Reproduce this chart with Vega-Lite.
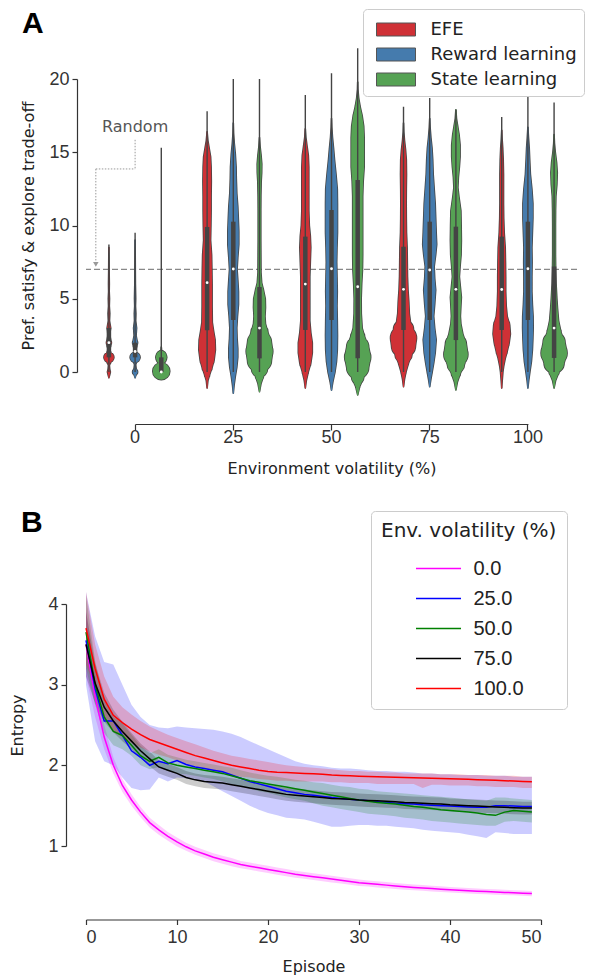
{
"$schema": "https://vega.github.io/schema/vega-lite/v6.json",
"background": "white",
"padding": {"left": 9, "top": 8, "right": 0, "bottom": 0},
"spacing": 31,
"resolve": {"scale": {"color": "independent", "fill": "independent", "size": "independent"}, "legend": {"color": "independent", "fill": "independent"}},
"config": {"view": {"stroke": null}, "font": "DejaVu Sans", "axis": {"grid": false}},
"datasets": {
"stats": [
{"vol":"0","grp":"EFE","lo":0,"hi":8.7,"q1":1,"q3":3,"med":2},
{"vol":"0","grp":"Reward learning","lo":0,"hi":9.5,"q1":1,"q3":2,"med":1.4},
{"vol":"0","grp":"State learning","lo":0,"hi":15.3,"q1":0,"q3":1,"med":0},
{"vol":"25","grp":"EFE","lo":0,"hi":17.8,"q1":2.85,"q3":9.9,"med":6.1},
{"vol":"25","grp":"Reward learning","lo":0,"hi":20,"q1":3.55,"q3":10.26,"med":7.03},
{"vol":"25","grp":"State learning","lo":0,"hi":20,"q1":0.93,"q3":5.8,"med":3.0},
{"vol":"50","grp":"EFE","lo":0,"hi":18.9,"q1":2.87,"q3":9.24,"med":6.0},
{"vol":"50","grp":"Reward learning","lo":0,"hi":20.4,"q1":3.55,"q3":11.06,"med":7.05},
{"vol":"50","grp":"State learning","lo":0,"hi":22.1,"q1":0.94,"q3":13.1,"med":5.82},
{"vol":"75","grp":"EFE","lo":0,"hi":18.1,"q1":2.87,"q3":8.55,"med":5.64},
{"vol":"75","grp":"Reward learning","lo":0,"hi":18.7,"q1":3.55,"q3":10.26,"med":6.96},
{"vol":"75","grp":"State learning","lo":0,"hi":17.9,"q1":2.18,"q3":9.92,"med":5.64},
{"vol":"100","grp":"EFE","lo":0,"hi":17.4,"q1":2.87,"q3":9.24,"med":5.63},
{"vol":"100","grp":"Reward learning","lo":0,"hi":19.4,"q1":3.55,"q3":10.26,"med":7.05},
{"vol":"100","grp":"State learning","lo":0,"hi":18.4,"q1":0.96,"q3":7.2,"med":3.0}
],
"viol": [
{"vol":"0","grp":"EFE","v":-0.4,"d":0},{"vol":"0","grp":"EFE","v":-0.2,"d":0.8},{"vol":"0","grp":"EFE","v":0,"d":1.5},{"vol":"0","grp":"EFE","v":0.2,"d":0.8},{"vol":"0","grp":"EFE","v":0.45,"d":0.5},{"vol":"0","grp":"EFE","v":0.7,"d":2},{"vol":"0","grp":"EFE","v":1.0,"d":5},{"vol":"0","grp":"EFE","v":1.3,"d":2},{"vol":"0","grp":"EFE","v":1.55,"d":0.8},{"vol":"0","grp":"EFE","v":1.8,"d":1.8},{"vol":"0","grp":"EFE","v":2.0,"d":2.5},{"vol":"0","grp":"EFE","v":2.2,"d":1.8},{"vol":"0","grp":"EFE","v":2.5,"d":1},{"vol":"0","grp":"EFE","v":2.8,"d":1.3},{"vol":"0","grp":"EFE","v":3.0,"d":1.8},{"vol":"0","grp":"EFE","v":3.2,"d":1.3},{"vol":"0","grp":"EFE","v":3.5,"d":0.6},{"vol":"0","grp":"EFE","v":4,"d":0.9},{"vol":"0","grp":"EFE","v":4.5,"d":0.4},{"vol":"0","grp":"EFE","v":5,"d":0.6},{"vol":"0","grp":"EFE","v":5.5,"d":0.3},{"vol":"0","grp":"EFE","v":6,"d":0.4},{"vol":"0","grp":"EFE","v":7,"d":0.2},{"vol":"0","grp":"EFE","v":8,"d":0.1},{"vol":"0","grp":"EFE","v":8.5,"d":0},
{"vol":"0","grp":"Reward learning","v":-0.4,"d":0},{"vol":"0","grp":"Reward learning","v":-0.2,"d":1},{"vol":"0","grp":"Reward learning","v":0,"d":2.5},{"vol":"0","grp":"Reward learning","v":0.25,"d":1},{"vol":"0","grp":"Reward learning","v":0.5,"d":0.6},{"vol":"0","grp":"Reward learning","v":0.75,"d":2},{"vol":"0","grp":"Reward learning","v":1.0,"d":5},{"vol":"0","grp":"Reward learning","v":1.25,"d":2},{"vol":"0","grp":"Reward learning","v":1.5,"d":0.8},{"vol":"0","grp":"Reward learning","v":1.8,"d":1.8},{"vol":"0","grp":"Reward learning","v":2.0,"d":2.5},{"vol":"0","grp":"Reward learning","v":2.2,"d":1.8},{"vol":"0","grp":"Reward learning","v":2.5,"d":1},{"vol":"0","grp":"Reward learning","v":3,"d":1.5},{"vol":"0","grp":"Reward learning","v":3.5,"d":0.6},{"vol":"0","grp":"Reward learning","v":4,"d":0.8},{"vol":"0","grp":"Reward learning","v":4.5,"d":0.4},{"vol":"0","grp":"Reward learning","v":5,"d":0.6},{"vol":"0","grp":"Reward learning","v":6,"d":0.3},{"vol":"0","grp":"Reward learning","v":7,"d":0.2},{"vol":"0","grp":"Reward learning","v":8,"d":0.1},{"vol":"0","grp":"Reward learning","v":9,"d":0},
{"vol":"0","grp":"State learning","v":-0.32,"d":0},{"vol":"0","grp":"State learning","v":-0.2,"d":3},{"vol":"0","grp":"State learning","v":-0.05,"d":7},{"vol":"0","grp":"State learning","v":0.05,"d":8.5},{"vol":"0","grp":"State learning","v":0.15,"d":7},{"vol":"0","grp":"State learning","v":0.3,"d":3},{"vol":"0","grp":"State learning","v":0.45,"d":1.2},{"vol":"0","grp":"State learning","v":0.7,"d":3},{"vol":"0","grp":"State learning","v":0.9,"d":5},{"vol":"0","grp":"State learning","v":1.0,"d":5.5},{"vol":"0","grp":"State learning","v":1.1,"d":5},{"vol":"0","grp":"State learning","v":1.3,"d":2.5},{"vol":"0","grp":"State learning","v":1.5,"d":0.3},{"vol":"0","grp":"State learning","v":1.7,"d":0},
{"vol":"25","grp":"EFE","v":-1.1,"d":0},{"vol":"25","grp":"EFE","v":-0.6,"d":0.8},{"vol":"25","grp":"EFE","v":-0.2,"d":2.5},{"vol":"25","grp":"EFE","v":0.3,"d":5},{"vol":"25","grp":"EFE","v":0.8,"d":7},{"vol":"25","grp":"EFE","v":1.5,"d":8.3},{"vol":"25","grp":"EFE","v":2.2,"d":8},{"vol":"25","grp":"EFE","v":2.8,"d":6.5},{"vol":"25","grp":"EFE","v":3.4,"d":5.2},{"vol":"25","grp":"EFE","v":4.5,"d":5},{"vol":"25","grp":"EFE","v":6,"d":5},{"vol":"25","grp":"EFE","v":7,"d":4.8},{"vol":"25","grp":"EFE","v":8,"d":4.5},{"vol":"25","grp":"EFE","v":9,"d":3.5},{"vol":"25","grp":"EFE","v":10,"d":3.8},{"vol":"25","grp":"EFE","v":11,"d":4},{"vol":"25","grp":"EFE","v":12,"d":4},{"vol":"25","grp":"EFE","v":13,"d":4.2},{"vol":"25","grp":"EFE","v":14,"d":4},{"vol":"25","grp":"EFE","v":14.7,"d":3.5},{"vol":"25","grp":"EFE","v":15.3,"d":2},{"vol":"25","grp":"EFE","v":15.8,"d":0.8},{"vol":"25","grp":"EFE","v":16.4,"d":0},
{"vol":"25","grp":"Reward learning","v":-1.45,"d":0},{"vol":"25","grp":"Reward learning","v":-0.9,"d":0.8},{"vol":"25","grp":"Reward learning","v":-0.3,"d":2},{"vol":"25","grp":"Reward learning","v":0.3,"d":3.5},{"vol":"25","grp":"Reward learning","v":1,"d":4.5},{"vol":"25","grp":"Reward learning","v":1.6,"d":4.5},{"vol":"25","grp":"Reward learning","v":2.3,"d":3.8},{"vol":"25","grp":"Reward learning","v":3,"d":3.5},{"vol":"25","grp":"Reward learning","v":3.8,"d":4.2},{"vol":"25","grp":"Reward learning","v":4.6,"d":5.2},{"vol":"25","grp":"Reward learning","v":5.5,"d":5.2},{"vol":"25","grp":"Reward learning","v":6.3,"d":4.5},{"vol":"25","grp":"Reward learning","v":7,"d":3.8},{"vol":"25","grp":"Reward learning","v":7.8,"d":4.5},{"vol":"25","grp":"Reward learning","v":8.7,"d":5.5},{"vol":"25","grp":"Reward learning","v":9.6,"d":5.5},{"vol":"25","grp":"Reward learning","v":10.5,"d":5},{"vol":"25","grp":"Reward learning","v":11.3,"d":4.5},{"vol":"25","grp":"Reward learning","v":12.2,"d":3.5},{"vol":"25","grp":"Reward learning","v":13.2,"d":3},{"vol":"25","grp":"Reward learning","v":14,"d":2.8},{"vol":"25","grp":"Reward learning","v":14.9,"d":2},{"vol":"25","grp":"Reward learning","v":15.6,"d":1},{"vol":"25","grp":"Reward learning","v":16.3,"d":0.3},{"vol":"25","grp":"Reward learning","v":17,"d":0},
{"vol":"25","grp":"State learning","v":-1.35,"d":0},{"vol":"25","grp":"State learning","v":-0.8,"d":1.5},{"vol":"25","grp":"State learning","v":-0.3,"d":4},{"vol":"25","grp":"State learning","v":0.2,"d":8},{"vol":"25","grp":"State learning","v":0.8,"d":12},{"vol":"25","grp":"State learning","v":1.4,"d":13.3},{"vol":"25","grp":"State learning","v":2,"d":12},{"vol":"25","grp":"State learning","v":2.7,"d":8.5},{"vol":"25","grp":"State learning","v":3.3,"d":6},{"vol":"25","grp":"State learning","v":3.8,"d":5.5},{"vol":"25","grp":"State learning","v":4.4,"d":6},{"vol":"25","grp":"State learning","v":5,"d":5.8},{"vol":"25","grp":"State learning","v":5.6,"d":4},{"vol":"25","grp":"State learning","v":6.1,"d":2.2},{"vol":"25","grp":"State learning","v":6.8,"d":1.5},{"vol":"25","grp":"State learning","v":8,"d":1.4},{"vol":"25","grp":"State learning","v":9,"d":1.3},{"vol":"25","grp":"State learning","v":10,"d":1.3},{"vol":"25","grp":"State learning","v":11,"d":1.3},{"vol":"25","grp":"State learning","v":12,"d":1.4},{"vol":"25","grp":"State learning","v":13,"d":1.7},{"vol":"25","grp":"State learning","v":13.6,"d":2.2},{"vol":"25","grp":"State learning","v":14.2,"d":2.3},{"vol":"25","grp":"State learning","v":14.8,"d":1.6},{"vol":"25","grp":"State learning","v":15.4,"d":0.6},{"vol":"25","grp":"State learning","v":16,"d":0},
{"vol":"50","grp":"EFE","v":-1.1,"d":0},{"vol":"50","grp":"EFE","v":-0.6,"d":1},{"vol":"50","grp":"EFE","v":0,"d":3},{"vol":"50","grp":"EFE","v":0.6,"d":5.5},{"vol":"50","grp":"EFE","v":1.3,"d":7},{"vol":"50","grp":"EFE","v":2,"d":7},{"vol":"50","grp":"EFE","v":2.7,"d":5.5},{"vol":"50","grp":"EFE","v":3.5,"d":4.5},{"vol":"50","grp":"EFE","v":4.5,"d":4.5},{"vol":"50","grp":"EFE","v":5.5,"d":4.5},{"vol":"50","grp":"EFE","v":6.5,"d":4.5},{"vol":"50","grp":"EFE","v":7.5,"d":5},{"vol":"50","grp":"EFE","v":8.5,"d":5.5},{"vol":"50","grp":"EFE","v":9.3,"d":5},{"vol":"50","grp":"EFE","v":10,"d":4},{"vol":"50","grp":"EFE","v":11,"d":3.5},{"vol":"50","grp":"EFE","v":12,"d":3.5},{"vol":"50","grp":"EFE","v":13,"d":3.5},{"vol":"50","grp":"EFE","v":14,"d":3.5},{"vol":"50","grp":"EFE","v":14.8,"d":3},{"vol":"50","grp":"EFE","v":15.4,"d":1.8},{"vol":"50","grp":"EFE","v":16,"d":0.6},{"vol":"50","grp":"EFE","v":16.6,"d":0},
{"vol":"50","grp":"Reward learning","v":-1.25,"d":0},{"vol":"50","grp":"Reward learning","v":-0.7,"d":1.3},{"vol":"50","grp":"Reward learning","v":0,"d":3.5},{"vol":"50","grp":"Reward learning","v":0.7,"d":5},{"vol":"50","grp":"Reward learning","v":1.5,"d":5.8},{"vol":"50","grp":"Reward learning","v":2.5,"d":6},{"vol":"50","grp":"Reward learning","v":3.5,"d":5.8},{"vol":"50","grp":"Reward learning","v":4.5,"d":5.5},{"vol":"50","grp":"Reward learning","v":5.5,"d":5.8},{"vol":"50","grp":"Reward learning","v":6.5,"d":5.5},{"vol":"50","grp":"Reward learning","v":7.5,"d":5.2},{"vol":"50","grp":"Reward learning","v":8.5,"d":5.5},{"vol":"50","grp":"Reward learning","v":9.5,"d":6},{"vol":"50","grp":"Reward learning","v":10.5,"d":6},{"vol":"50","grp":"Reward learning","v":11.5,"d":6},{"vol":"50","grp":"Reward learning","v":12.5,"d":5.8},{"vol":"50","grp":"Reward learning","v":13.5,"d":4.5},{"vol":"50","grp":"Reward learning","v":14.5,"d":3},{"vol":"50","grp":"Reward learning","v":15.3,"d":2},{"vol":"50","grp":"Reward learning","v":16,"d":1},{"vol":"50","grp":"Reward learning","v":16.7,"d":0.3},{"vol":"50","grp":"Reward learning","v":17.3,"d":0},
{"vol":"50","grp":"State learning","v":-1.57,"d":0},{"vol":"50","grp":"State learning","v":-1.0,"d":2},{"vol":"50","grp":"State learning","v":-0.4,"d":6},{"vol":"50","grp":"State learning","v":0.3,"d":11},{"vol":"50","grp":"State learning","v":1.0,"d":13},{"vol":"50","grp":"State learning","v":1.7,"d":11},{"vol":"50","grp":"State learning","v":2.4,"d":7},{"vol":"50","grp":"State learning","v":3,"d":4.5},{"vol":"50","grp":"State learning","v":4,"d":3.6},{"vol":"50","grp":"State learning","v":5,"d":3.5},{"vol":"50","grp":"State learning","v":6,"d":4},{"vol":"50","grp":"State learning","v":7,"d":4.8},{"vol":"50","grp":"State learning","v":8,"d":5},{"vol":"50","grp":"State learning","v":9,"d":5},{"vol":"50","grp":"State learning","v":10,"d":5},{"vol":"50","grp":"State learning","v":11,"d":5},{"vol":"50","grp":"State learning","v":12,"d":5},{"vol":"50","grp":"State learning","v":13,"d":5.5},{"vol":"50","grp":"State learning","v":14,"d":6.5},{"vol":"50","grp":"State learning","v":15,"d":6.5},{"vol":"50","grp":"State learning","v":16,"d":6.5},{"vol":"50","grp":"State learning","v":16.8,"d":6},{"vol":"50","grp":"State learning","v":17.5,"d":4.5},{"vol":"50","grp":"State learning","v":18.1,"d":2.5},{"vol":"50","grp":"State learning","v":18.7,"d":1},{"vol":"50","grp":"State learning","v":19.3,"d":0.2},{"vol":"50","grp":"State learning","v":19.8,"d":0},
{"vol":"75","grp":"EFE","v":-1.0,"d":0},{"vol":"75","grp":"EFE","v":-0.5,"d":1},{"vol":"75","grp":"EFE","v":0,"d":2.5},{"vol":"75","grp":"EFE","v":0.6,"d":5},{"vol":"75","grp":"EFE","v":1.2,"d":8.5},{"vol":"75","grp":"EFE","v":1.8,"d":12},{"vol":"75","grp":"EFE","v":2.3,"d":13},{"vol":"75","grp":"EFE","v":2.9,"d":10},{"vol":"75","grp":"EFE","v":3.4,"d":7},{"vol":"75","grp":"EFE","v":4,"d":5.8},{"vol":"75","grp":"EFE","v":4.8,"d":5.3},{"vol":"75","grp":"EFE","v":5.6,"d":4.5},{"vol":"75","grp":"EFE","v":6.5,"d":4},{"vol":"75","grp":"EFE","v":7.5,"d":3.8},{"vol":"75","grp":"EFE","v":8.5,"d":3.6},{"vol":"75","grp":"EFE","v":9.5,"d":3},{"vol":"75","grp":"EFE","v":10.5,"d":2.8},{"vol":"75","grp":"EFE","v":11.5,"d":2.7},{"vol":"75","grp":"EFE","v":12.5,"d":2.8},{"vol":"75","grp":"EFE","v":13.5,"d":3},{"vol":"75","grp":"EFE","v":14.5,"d":2.8},{"vol":"75","grp":"EFE","v":15.2,"d":2},{"vol":"75","grp":"EFE","v":15.8,"d":1},{"vol":"75","grp":"EFE","v":16.4,"d":0.3},{"vol":"75","grp":"EFE","v":17,"d":0},
{"vol":"75","grp":"Reward learning","v":-1.0,"d":0},{"vol":"75","grp":"Reward learning","v":-0.5,"d":1.2},{"vol":"75","grp":"Reward learning","v":0,"d":2.5},{"vol":"75","grp":"Reward learning","v":0.6,"d":4},{"vol":"75","grp":"Reward learning","v":1.3,"d":5.5},{"vol":"75","grp":"Reward learning","v":2.2,"d":6.5},{"vol":"75","grp":"Reward learning","v":3,"d":5},{"vol":"75","grp":"Reward learning","v":3.8,"d":4},{"vol":"75","grp":"Reward learning","v":4.6,"d":5},{"vol":"75","grp":"Reward learning","v":5.6,"d":6},{"vol":"75","grp":"Reward learning","v":6.4,"d":5},{"vol":"75","grp":"Reward learning","v":7.2,"d":4.5},{"vol":"75","grp":"Reward learning","v":8,"d":6},{"vol":"75","grp":"Reward learning","v":8.7,"d":7},{"vol":"75","grp":"Reward learning","v":9.5,"d":6.5},{"vol":"75","grp":"Reward learning","v":10.5,"d":6},{"vol":"75","grp":"Reward learning","v":11.5,"d":5.5},{"vol":"75","grp":"Reward learning","v":12.5,"d":4.5},{"vol":"75","grp":"Reward learning","v":13.5,"d":3.5},{"vol":"75","grp":"Reward learning","v":14.5,"d":3},{"vol":"75","grp":"Reward learning","v":15.3,"d":2.3},{"vol":"75","grp":"Reward learning","v":16,"d":1.2},{"vol":"75","grp":"Reward learning","v":16.7,"d":0.4},{"vol":"75","grp":"Reward learning","v":17.3,"d":0},
{"vol":"75","grp":"State learning","v":-1.23,"d":0},{"vol":"75","grp":"State learning","v":-0.7,"d":1.5},{"vol":"75","grp":"State learning","v":-0.1,"d":4.5},{"vol":"75","grp":"State learning","v":0.5,"d":8.5},{"vol":"75","grp":"State learning","v":1.2,"d":12},{"vol":"75","grp":"State learning","v":1.9,"d":10.5},{"vol":"75","grp":"State learning","v":2.6,"d":7},{"vol":"75","grp":"State learning","v":3.3,"d":5},{"vol":"75","grp":"State learning","v":3.8,"d":4.5},{"vol":"75","grp":"State learning","v":4.5,"d":5},{"vol":"75","grp":"State learning","v":5.1,"d":5.5},{"vol":"75","grp":"State learning","v":5.8,"d":4.5},{"vol":"75","grp":"State learning","v":6.5,"d":3.5},{"vol":"75","grp":"State learning","v":7.2,"d":4.2},{"vol":"75","grp":"State learning","v":8,"d":5.2},{"vol":"75","grp":"State learning","v":9,"d":5.5},{"vol":"75","grp":"State learning","v":10,"d":5.3},{"vol":"75","grp":"State learning","v":11,"d":5},{"vol":"75","grp":"State learning","v":12,"d":3},{"vol":"75","grp":"State learning","v":12.6,"d":2},{"vol":"75","grp":"State learning","v":13.3,"d":2.5},{"vol":"75","grp":"State learning","v":14,"d":3.5},{"vol":"75","grp":"State learning","v":14.7,"d":4.2},{"vol":"75","grp":"State learning","v":15.5,"d":4.2},{"vol":"75","grp":"State learning","v":16.2,"d":3.2},{"vol":"75","grp":"State learning","v":16.8,"d":1.8},{"vol":"75","grp":"State learning","v":17.3,"d":0.6},{"vol":"75","grp":"State learning","v":17.9,"d":0},
{"vol":"100","grp":"EFE","v":-1.1,"d":0},{"vol":"100","grp":"EFE","v":-0.6,"d":0.5},{"vol":"100","grp":"EFE","v":0,"d":1.2},{"vol":"100","grp":"EFE","v":0.4,"d":2},{"vol":"100","grp":"EFE","v":0.9,"d":3.5},{"vol":"100","grp":"EFE","v":1.4,"d":5.5},{"vol":"100","grp":"EFE","v":2,"d":7.5},{"vol":"100","grp":"EFE","v":2.6,"d":8.7},{"vol":"100","grp":"EFE","v":3.2,"d":8},{"vol":"100","grp":"EFE","v":3.8,"d":5.5},{"vol":"100","grp":"EFE","v":4.5,"d":4.5},{"vol":"100","grp":"EFE","v":5.5,"d":4},{"vol":"100","grp":"EFE","v":6.5,"d":4},{"vol":"100","grp":"EFE","v":7.5,"d":3.8},{"vol":"100","grp":"EFE","v":8.5,"d":3.5},{"vol":"100","grp":"EFE","v":9.5,"d":2.5},{"vol":"100","grp":"EFE","v":10.5,"d":2},{"vol":"100","grp":"EFE","v":11.5,"d":1.8},{"vol":"100","grp":"EFE","v":12.5,"d":1.8},{"vol":"100","grp":"EFE","v":13.5,"d":1.8},{"vol":"100","grp":"EFE","v":14.5,"d":1.5},{"vol":"100","grp":"EFE","v":15.3,"d":1},{"vol":"100","grp":"EFE","v":15.9,"d":0.4},{"vol":"100","grp":"EFE","v":16.5,"d":0},
{"vol":"100","grp":"Reward learning","v":-1.1,"d":0},{"vol":"100","grp":"Reward learning","v":-0.6,"d":0.8},{"vol":"100","grp":"Reward learning","v":0,"d":2},{"vol":"100","grp":"Reward learning","v":0.7,"d":3.5},{"vol":"100","grp":"Reward learning","v":1.5,"d":4.5},{"vol":"100","grp":"Reward learning","v":2.3,"d":5},{"vol":"100","grp":"Reward learning","v":3,"d":5.3},{"vol":"100","grp":"Reward learning","v":3.8,"d":5.2},{"vol":"100","grp":"Reward learning","v":4.6,"d":4.5},{"vol":"100","grp":"Reward learning","v":5.5,"d":4},{"vol":"100","grp":"Reward learning","v":6.5,"d":4},{"vol":"100","grp":"Reward learning","v":7.5,"d":4.2},{"vol":"100","grp":"Reward learning","v":8.5,"d":4},{"vol":"100","grp":"Reward learning","v":9.5,"d":4.5},{"vol":"100","grp":"Reward learning","v":10.5,"d":5},{"vol":"100","grp":"Reward learning","v":11.5,"d":5},{"vol":"100","grp":"Reward learning","v":12.5,"d":4},{"vol":"100","grp":"Reward learning","v":13.5,"d":2.5},{"vol":"100","grp":"Reward learning","v":14.5,"d":1.8},{"vol":"100","grp":"Reward learning","v":15.3,"d":1.3},{"vol":"100","grp":"Reward learning","v":16,"d":0.6},{"vol":"100","grp":"Reward learning","v":16.7,"d":0},
{"vol":"100","grp":"State learning","v":-1.1,"d":0},{"vol":"100","grp":"State learning","v":-0.6,"d":1.5},{"vol":"100","grp":"State learning","v":0,"d":5},{"vol":"100","grp":"State learning","v":0.6,"d":10},{"vol":"100","grp":"State learning","v":1.3,"d":13},{"vol":"100","grp":"State learning","v":2,"d":11},{"vol":"100","grp":"State learning","v":2.7,"d":7},{"vol":"100","grp":"State learning","v":3.5,"d":4.5},{"vol":"100","grp":"State learning","v":4.3,"d":3.5},{"vol":"100","grp":"State learning","v":5,"d":2.8},{"vol":"100","grp":"State learning","v":6,"d":2},{"vol":"100","grp":"State learning","v":7,"d":1.6},{"vol":"100","grp":"State learning","v":8,"d":1.4},{"vol":"100","grp":"State learning","v":9,"d":1.4},{"vol":"100","grp":"State learning","v":10,"d":1.4},{"vol":"100","grp":"State learning","v":11,"d":1.5},{"vol":"100","grp":"State learning","v":12,"d":1.8},{"vol":"100","grp":"State learning","v":12.8,"d":2.8},{"vol":"100","grp":"State learning","v":13.6,"d":3.2},{"vol":"100","grp":"State learning","v":14.3,"d":2.5},{"vol":"100","grp":"State learning","v":15,"d":1.2},{"vol":"100","grp":"State learning","v":15.6,"d":0.4},{"vol":"100","grp":"State learning","v":16.2,"d":0}
],
"ent": [
{"ep":0,"s":"0.0","m":3.5,"lo":3.1,"hi":3.95},{"ep":1,"s":"0.0","m":2.85,"lo":2.6,"hi":3.1},{"ep":2,"s":"0.0","m":2.35,"lo":2.2,"hi":2.5},{"ep":3,"s":"0.0","m":2.0,"lo":1.9,"hi":2.1},{"ep":4,"s":"0.0","m":1.75,"lo":1.67,"hi":1.83},{"ep":5,"s":"0.0","m":1.57,"lo":1.5,"hi":1.64},{"ep":6,"s":"0.0","m":1.42,"lo":1.355,"hi":1.485},{"ep":7,"s":"0.0","m":1.29,"lo":1.23,"hi":1.35},{"ep":8,"s":"0.0","m":1.2,"lo":1.14,"hi":1.26},{"ep":9,"s":"0.0","m":1.12,"lo":1.065,"hi":1.175},{"ep":10,"s":"0.0","m":1.05,"lo":0.995,"hi":1.105},{"ep":11,"s":"0.0","m":0.99,"lo":0.94,"hi":1.04},{"ep":12,"s":"0.0","m":0.94,"lo":0.89,"hi":0.99},{"ep":13,"s":"0.0","m":0.9,"lo":0.85,"hi":0.95},{"ep":14,"s":"0.0","m":0.86,"lo":0.81,"hi":0.91},{"ep":15,"s":"0.0","m":0.83,"lo":0.78,"hi":0.88},{"ep":16,"s":"0.0","m":0.8,"lo":0.75,"hi":0.85},{"ep":17,"s":"0.0","m":0.77,"lo":0.725,"hi":0.815},{"ep":18,"s":"0.0","m":0.75,"lo":0.705,"hi":0.795},{"ep":19,"s":"0.0","m":0.73,"lo":0.685,"hi":0.775},{"ep":20,"s":"0.0","m":0.71,"lo":0.665,"hi":0.755},{"ep":21,"s":"0.0","m":0.69,"lo":0.645,"hi":0.735},{"ep":22,"s":"0.0","m":0.67,"lo":0.625,"hi":0.715},{"ep":23,"s":"0.0","m":0.65,"lo":0.607,"hi":0.693},{"ep":24,"s":"0.0","m":0.635,"lo":0.593,"hi":0.677},{"ep":25,"s":"0.0","m":0.62,"lo":0.578,"hi":0.662},{"ep":26,"s":"0.0","m":0.605,"lo":0.563,"hi":0.647},{"ep":27,"s":"0.0","m":0.59,"lo":0.548,"hi":0.632},{"ep":28,"s":"0.0","m":0.575,"lo":0.535,"hi":0.615},{"ep":29,"s":"0.0","m":0.56,"lo":0.52,"hi":0.6},{"ep":30,"s":"0.0","m":0.545,"lo":0.505,"hi":0.585},{"ep":31,"s":"0.0","m":0.535,"lo":0.497,"hi":0.573},{"ep":32,"s":"0.0","m":0.525,"lo":0.487,"hi":0.563},{"ep":33,"s":"0.0","m":0.515,"lo":0.477,"hi":0.553},{"ep":34,"s":"0.0","m":0.505,"lo":0.468,"hi":0.542},{"ep":35,"s":"0.0","m":0.495,"lo":0.458,"hi":0.532},{"ep":36,"s":"0.0","m":0.487,"lo":0.45,"hi":0.524},{"ep":37,"s":"0.0","m":0.48,"lo":0.444,"hi":0.516},{"ep":38,"s":"0.0","m":0.472,"lo":0.436,"hi":0.508},{"ep":39,"s":"0.0","m":0.465,"lo":0.43,"hi":0.5},{"ep":40,"s":"0.0","m":0.458,"lo":0.423,"hi":0.493},{"ep":41,"s":"0.0","m":0.452,"lo":0.418,"hi":0.486},{"ep":42,"s":"0.0","m":0.446,"lo":0.412,"hi":0.48},{"ep":43,"s":"0.0","m":0.44,"lo":0.406,"hi":0.474},{"ep":44,"s":"0.0","m":0.435,"lo":0.402,"hi":0.468},{"ep":45,"s":"0.0","m":0.43,"lo":0.397,"hi":0.463},{"ep":46,"s":"0.0","m":0.425,"lo":0.392,"hi":0.458},{"ep":47,"s":"0.0","m":0.42,"lo":0.388,"hi":0.452},{"ep":48,"s":"0.0","m":0.415,"lo":0.383,"hi":0.447},{"ep":49,"s":"0.0","m":0.41,"lo":0.378,"hi":0.442},
{"ep":0,"s":"25.0","m":3.55,"lo":3.0,"hi":4.15},{"ep":1,"s":"25.0","m":2.95,"lo":2.3,"hi":3.6},{"ep":2,"s":"25.0","m":2.55,"lo":2.05,"hi":3.28},{"ep":3,"s":"25.0","m":2.55,"lo":2.0,"hi":3.25},{"ep":4,"s":"25.0","m":2.37,"lo":1.85,"hi":3.0},{"ep":5,"s":"25.0","m":2.18,"lo":1.72,"hi":2.75},{"ep":6,"s":"25.0","m":2.1,"lo":1.69,"hi":2.6},{"ep":7,"s":"25.0","m":2.0,"lo":1.7,"hi":2.5},{"ep":8,"s":"25.0","m":2.05,"lo":1.85,"hi":2.47},{"ep":9,"s":"25.0","m":2.02,"lo":1.8,"hi":2.46},{"ep":10,"s":"25.0","m":2.06,"lo":1.85,"hi":2.48},{"ep":11,"s":"25.0","m":2.01,"lo":1.84,"hi":2.47},{"ep":12,"s":"25.0","m":1.98,"lo":1.82,"hi":2.46},{"ep":13,"s":"25.0","m":1.96,"lo":1.8,"hi":2.45},{"ep":14,"s":"25.0","m":1.94,"lo":1.74,"hi":2.44},{"ep":15,"s":"25.0","m":1.92,"lo":1.68,"hi":2.42},{"ep":16,"s":"25.0","m":1.88,"lo":1.62,"hi":2.39},{"ep":17,"s":"25.0","m":1.84,"lo":1.56,"hi":2.35},{"ep":18,"s":"25.0","m":1.8,"lo":1.5,"hi":2.3},{"ep":19,"s":"25.0","m":1.77,"lo":1.45,"hi":2.25},{"ep":20,"s":"25.0","m":1.74,"lo":1.41,"hi":2.2},{"ep":21,"s":"25.0","m":1.71,"lo":1.38,"hi":2.15},{"ep":22,"s":"25.0","m":1.68,"lo":1.35,"hi":2.1},{"ep":23,"s":"25.0","m":1.66,"lo":1.34,"hi":2.05},{"ep":24,"s":"25.0","m":1.64,"lo":1.33,"hi":2.02},{"ep":25,"s":"25.0","m":1.63,"lo":1.3,"hi":2.0},{"ep":26,"s":"25.0","m":1.615,"lo":1.27,"hi":1.99},{"ep":27,"s":"25.0","m":1.6,"lo":1.24,"hi":1.97},{"ep":28,"s":"25.0","m":1.59,"lo":1.24,"hi":1.96},{"ep":29,"s":"25.0","m":1.58,"lo":1.25,"hi":1.96},{"ep":30,"s":"25.0","m":1.57,"lo":1.26,"hi":1.95},{"ep":31,"s":"25.0","m":1.56,"lo":1.26,"hi":1.94},{"ep":32,"s":"25.0","m":1.55,"lo":1.25,"hi":1.93},{"ep":33,"s":"25.0","m":1.54,"lo":1.25,"hi":1.93},{"ep":34,"s":"25.0","m":1.53,"lo":1.24,"hi":1.92},{"ep":35,"s":"25.0","m":1.525,"lo":1.23,"hi":1.92},{"ep":36,"s":"25.0","m":1.52,"lo":1.22,"hi":1.91},{"ep":37,"s":"25.0","m":1.51,"lo":1.2,"hi":1.9},{"ep":38,"s":"25.0","m":1.505,"lo":1.19,"hi":1.9},{"ep":39,"s":"25.0","m":1.5,"lo":1.18,"hi":1.89},{"ep":40,"s":"25.0","m":1.495,"lo":1.17,"hi":1.89},{"ep":41,"s":"25.0","m":1.49,"lo":1.16,"hi":1.88},{"ep":42,"s":"25.0","m":1.485,"lo":1.14,"hi":1.88},{"ep":43,"s":"25.0","m":1.48,"lo":1.12,"hi":1.88},{"ep":44,"s":"25.0","m":1.48,"lo":1.1,"hi":1.87},{"ep":45,"s":"25.0","m":1.5,"lo":1.17,"hi":1.87},{"ep":46,"s":"25.0","m":1.5,"lo":1.16,"hi":1.87},{"ep":47,"s":"25.0","m":1.495,"lo":1.15,"hi":1.86},{"ep":48,"s":"25.0","m":1.49,"lo":1.15,"hi":1.86},{"ep":49,"s":"25.0","m":1.49,"lo":1.15,"hi":1.86},
{"ep":0,"s":"50.0","m":3.65,"lo":3.2,"hi":4.1},{"ep":1,"s":"50.0","m":3.0,"lo":2.75,"hi":3.3},{"ep":2,"s":"50.0","m":2.6,"lo":2.4,"hi":2.8},{"ep":3,"s":"50.0","m":2.42,"lo":2.25,"hi":2.6},{"ep":4,"s":"50.0","m":2.37,"lo":2.2,"hi":2.52},{"ep":5,"s":"50.0","m":2.25,"lo":2.12,"hi":2.38},{"ep":6,"s":"50.0","m":2.12,"lo":2.0,"hi":2.24},{"ep":7,"s":"50.0","m":2.05,"lo":1.95,"hi":2.15},{"ep":8,"s":"50.0","m":2.1,"lo":1.98,"hi":2.2},{"ep":9,"s":"50.0","m":2.03,"lo":1.93,"hi":2.13},{"ep":10,"s":"50.0","m":2.0,"lo":1.9,"hi":2.1},{"ep":11,"s":"50.0","m":1.98,"lo":1.89,"hi":2.07},{"ep":12,"s":"50.0","m":1.96,"lo":1.87,"hi":2.05},{"ep":13,"s":"50.0","m":1.94,"lo":1.85,"hi":2.03},{"ep":14,"s":"50.0","m":1.92,"lo":1.83,"hi":2.01},{"ep":15,"s":"50.0","m":1.9,"lo":1.8,"hi":1.99},{"ep":16,"s":"50.0","m":1.87,"lo":1.77,"hi":1.97},{"ep":17,"s":"50.0","m":1.84,"lo":1.74,"hi":1.94},{"ep":18,"s":"50.0","m":1.81,"lo":1.71,"hi":1.91},{"ep":19,"s":"50.0","m":1.79,"lo":1.68,"hi":1.89},{"ep":20,"s":"50.0","m":1.77,"lo":1.66,"hi":1.87},{"ep":21,"s":"50.0","m":1.75,"lo":1.63,"hi":1.86},{"ep":22,"s":"50.0","m":1.73,"lo":1.6,"hi":1.84},{"ep":23,"s":"50.0","m":1.71,"lo":1.58,"hi":1.82},{"ep":24,"s":"50.0","m":1.69,"lo":1.56,"hi":1.81},{"ep":25,"s":"50.0","m":1.67,"lo":1.53,"hi":1.79},{"ep":26,"s":"50.0","m":1.65,"lo":1.5,"hi":1.78},{"ep":27,"s":"50.0","m":1.63,"lo":1.48,"hi":1.76},{"ep":28,"s":"50.0","m":1.61,"lo":1.46,"hi":1.74},{"ep":29,"s":"50.0","m":1.59,"lo":1.44,"hi":1.73},{"ep":30,"s":"50.0","m":1.57,"lo":1.42,"hi":1.71},{"ep":31,"s":"50.0","m":1.555,"lo":1.4,"hi":1.7},{"ep":32,"s":"50.0","m":1.54,"lo":1.39,"hi":1.68},{"ep":33,"s":"50.0","m":1.53,"lo":1.38,"hi":1.67},{"ep":34,"s":"50.0","m":1.52,"lo":1.37,"hi":1.66},{"ep":35,"s":"50.0","m":1.505,"lo":1.35,"hi":1.65},{"ep":36,"s":"50.0","m":1.49,"lo":1.34,"hi":1.64},{"ep":37,"s":"50.0","m":1.48,"lo":1.33,"hi":1.63},{"ep":38,"s":"50.0","m":1.465,"lo":1.31,"hi":1.62},{"ep":39,"s":"50.0","m":1.45,"lo":1.3,"hi":1.61},{"ep":40,"s":"50.0","m":1.44,"lo":1.29,"hi":1.6},{"ep":41,"s":"50.0","m":1.43,"lo":1.28,"hi":1.59},{"ep":42,"s":"50.0","m":1.42,"lo":1.27,"hi":1.58},{"ep":43,"s":"50.0","m":1.41,"lo":1.26,"hi":1.57},{"ep":44,"s":"50.0","m":1.39,"lo":1.25,"hi":1.56},{"ep":45,"s":"50.0","m":1.38,"lo":1.25,"hi":1.6},{"ep":46,"s":"50.0","m":1.42,"lo":1.3,"hi":1.6},{"ep":47,"s":"50.0","m":1.44,"lo":1.31,"hi":1.59},{"ep":48,"s":"50.0","m":1.43,"lo":1.3,"hi":1.58},{"ep":49,"s":"50.0","m":1.42,"lo":1.29,"hi":1.57},
{"ep":0,"s":"75.0","m":3.5,"lo":3.1,"hi":3.9},{"ep":1,"s":"75.0","m":3.02,"lo":2.77,"hi":3.27},{"ep":2,"s":"75.0","m":2.72,"lo":2.54,"hi":2.9},{"ep":3,"s":"75.0","m":2.55,"lo":2.41,"hi":2.69},{"ep":4,"s":"75.0","m":2.42,"lo":2.3,"hi":2.54},{"ep":5,"s":"75.0","m":2.3,"lo":2.2,"hi":2.4},{"ep":6,"s":"75.0","m":2.18,"lo":2.09,"hi":2.27},{"ep":7,"s":"75.0","m":2.08,"lo":1.99,"hi":2.17},{"ep":8,"s":"75.0","m":1.98,"lo":1.9,"hi":2.06},{"ep":9,"s":"75.0","m":1.94,"lo":1.86,"hi":2.02},{"ep":10,"s":"75.0","m":1.9,"lo":1.82,"hi":1.98},{"ep":11,"s":"75.0","m":1.85,"lo":1.77,"hi":1.93},{"ep":12,"s":"75.0","m":1.82,"lo":1.74,"hi":1.9},{"ep":13,"s":"75.0","m":1.8,"lo":1.72,"hi":1.88},{"ep":14,"s":"75.0","m":1.79,"lo":1.71,"hi":1.87},{"ep":15,"s":"75.0","m":1.78,"lo":1.7,"hi":1.86},{"ep":16,"s":"75.0","m":1.76,"lo":1.68,"hi":1.84},{"ep":17,"s":"75.0","m":1.74,"lo":1.66,"hi":1.82},{"ep":18,"s":"75.0","m":1.72,"lo":1.64,"hi":1.8},{"ep":19,"s":"75.0","m":1.7,"lo":1.62,"hi":1.78},{"ep":20,"s":"75.0","m":1.68,"lo":1.6,"hi":1.76},{"ep":21,"s":"75.0","m":1.66,"lo":1.58,"hi":1.74},{"ep":22,"s":"75.0","m":1.64,"lo":1.56,"hi":1.72},{"ep":23,"s":"75.0","m":1.63,"lo":1.55,"hi":1.71},{"ep":24,"s":"75.0","m":1.62,"lo":1.54,"hi":1.7},{"ep":25,"s":"75.0","m":1.61,"lo":1.53,"hi":1.69},{"ep":26,"s":"75.0","m":1.6,"lo":1.52,"hi":1.68},{"ep":27,"s":"75.0","m":1.59,"lo":1.51,"hi":1.67},{"ep":28,"s":"75.0","m":1.585,"lo":1.505,"hi":1.665},{"ep":29,"s":"75.0","m":1.58,"lo":1.5,"hi":1.66},{"ep":30,"s":"75.0","m":1.57,"lo":1.49,"hi":1.65},{"ep":31,"s":"75.0","m":1.565,"lo":1.485,"hi":1.645},{"ep":32,"s":"75.0","m":1.56,"lo":1.48,"hi":1.64},{"ep":33,"s":"75.0","m":1.555,"lo":1.475,"hi":1.635},{"ep":34,"s":"75.0","m":1.55,"lo":1.47,"hi":1.63},{"ep":35,"s":"75.0","m":1.54,"lo":1.46,"hi":1.62},{"ep":36,"s":"75.0","m":1.535,"lo":1.455,"hi":1.615},{"ep":37,"s":"75.0","m":1.53,"lo":1.45,"hi":1.61},{"ep":38,"s":"75.0","m":1.525,"lo":1.445,"hi":1.605},{"ep":39,"s":"75.0","m":1.52,"lo":1.44,"hi":1.6},{"ep":40,"s":"75.0","m":1.51,"lo":1.43,"hi":1.59},{"ep":41,"s":"75.0","m":1.505,"lo":1.425,"hi":1.585},{"ep":42,"s":"75.0","m":1.5,"lo":1.42,"hi":1.58},{"ep":43,"s":"75.0","m":1.495,"lo":1.415,"hi":1.575},{"ep":44,"s":"75.0","m":1.49,"lo":1.41,"hi":1.57},{"ep":45,"s":"75.0","m":1.485,"lo":1.405,"hi":1.565},{"ep":46,"s":"75.0","m":1.48,"lo":1.4,"hi":1.56},{"ep":47,"s":"75.0","m":1.475,"lo":1.395,"hi":1.555},{"ep":48,"s":"75.0","m":1.47,"lo":1.39,"hi":1.55},{"ep":49,"s":"75.0","m":1.47,"lo":1.39,"hi":1.55},
{"ep":0,"s":"100.0","m":3.7,"lo":3.25,"hi":4.15},{"ep":1,"s":"100.0","m":3.2,"lo":2.95,"hi":3.5},{"ep":2,"s":"100.0","m":2.82,"lo":2.6,"hi":3.1},{"ep":3,"s":"100.0","m":2.62,"lo":2.42,"hi":2.85},{"ep":4,"s":"100.0","m":2.53,"lo":2.35,"hi":2.72},{"ep":5,"s":"100.0","m":2.45,"lo":2.28,"hi":2.63},{"ep":6,"s":"100.0","m":2.38,"lo":2.22,"hi":2.55},{"ep":7,"s":"100.0","m":2.32,"lo":2.17,"hi":2.48},{"ep":8,"s":"100.0","m":2.28,"lo":2.13,"hi":2.43},{"ep":9,"s":"100.0","m":2.24,"lo":2.1,"hi":2.38},{"ep":10,"s":"100.0","m":2.2,"lo":2.06,"hi":2.34},{"ep":11,"s":"100.0","m":2.16,"lo":2.02,"hi":2.3},{"ep":12,"s":"100.0","m":2.12,"lo":1.99,"hi":2.26},{"ep":13,"s":"100.0","m":2.09,"lo":1.96,"hi":2.22},{"ep":14,"s":"100.0","m":2.06,"lo":1.93,"hi":2.18},{"ep":15,"s":"100.0","m":2.03,"lo":1.9,"hi":2.15},{"ep":16,"s":"100.0","m":2.0,"lo":1.88,"hi":2.12},{"ep":17,"s":"100.0","m":1.98,"lo":1.86,"hi":2.1},{"ep":18,"s":"100.0","m":1.96,"lo":1.85,"hi":2.08},{"ep":19,"s":"100.0","m":1.94,"lo":1.83,"hi":2.06},{"ep":20,"s":"100.0","m":1.925,"lo":1.82,"hi":2.04},{"ep":21,"s":"100.0","m":1.915,"lo":1.81,"hi":2.02},{"ep":22,"s":"100.0","m":1.91,"lo":1.81,"hi":2.0},{"ep":23,"s":"100.0","m":1.905,"lo":1.8,"hi":1.99},{"ep":24,"s":"100.0","m":1.9,"lo":1.8,"hi":1.98},{"ep":25,"s":"100.0","m":1.895,"lo":1.8,"hi":1.97},{"ep":26,"s":"100.0","m":1.89,"lo":1.8,"hi":1.96},{"ep":27,"s":"100.0","m":1.88,"lo":1.79,"hi":1.95},{"ep":28,"s":"100.0","m":1.875,"lo":1.79,"hi":1.94},{"ep":29,"s":"100.0","m":1.87,"lo":1.78,"hi":1.93},{"ep":30,"s":"100.0","m":1.865,"lo":1.78,"hi":1.93},{"ep":31,"s":"100.0","m":1.862,"lo":1.78,"hi":1.92},{"ep":32,"s":"100.0","m":1.858,"lo":1.77,"hi":1.92},{"ep":33,"s":"100.0","m":1.855,"lo":1.77,"hi":1.91},{"ep":34,"s":"100.0","m":1.852,"lo":1.77,"hi":1.91},{"ep":35,"s":"100.0","m":1.85,"lo":1.77,"hi":1.9},{"ep":36,"s":"100.0","m":1.847,"lo":1.77,"hi":1.9},{"ep":37,"s":"100.0","m":1.844,"lo":1.72,"hi":1.9},{"ep":38,"s":"100.0","m":1.84,"lo":1.76,"hi":1.9},{"ep":39,"s":"100.0","m":1.837,"lo":1.76,"hi":1.89},{"ep":40,"s":"100.0","m":1.834,"lo":1.75,"hi":1.89},{"ep":41,"s":"100.0","m":1.83,"lo":1.75,"hi":1.89},{"ep":42,"s":"100.0","m":1.826,"lo":1.75,"hi":1.88},{"ep":43,"s":"100.0","m":1.822,"lo":1.74,"hi":1.88},{"ep":44,"s":"100.0","m":1.818,"lo":1.74,"hi":1.88},{"ep":45,"s":"100.0","m":1.814,"lo":1.73,"hi":1.87},{"ep":46,"s":"100.0","m":1.81,"lo":1.73,"hi":1.87},{"ep":47,"s":"100.0","m":1.805,"lo":1.73,"hi":1.87},{"ep":48,"s":"100.0","m":1.8,"lo":1.72,"hi":1.86},{"ep":49,"s":"100.0","m":1.795,"lo":1.72,"hi":1.86}
]
},
"vconcat": [
{
"title": {"text": "A", "anchor": "start", "frame": "group", "dx": -64, "offset": -30, "fontSize": 30, "fontWeight": "bold", "font": "Liberation Sans", "color": "black"},
"width": 491, "height": 293,
"resolve": {"scale": {"size": "independent"}},
"layer": [
{"data": {"values": [{}]},
 "mark": {"type": "rule", "color": "#888888", "strokeDash": [6, 3], "strokeWidth": 1.3},
 "encoding": {"y": {"datum": 7, "type": "quantitative", "scale": {"domain": [0, 20], "nice": false, "zero": false}}}},
{"data": {"values": [{}]},
 "mark": {"type": "text", "text": "Random", "font": "DejaVu Sans", "fontSize": 16, "color": "#555555"},
 "encoding": {"x": {"datum": "0", "type": "ordinal", "bandPosition": 0.5}, "y": {"datum": 16.75, "type": "quantitative"}}},
{"data": {"values": [{}]},
 "mark": {"type": "rule", "color": "#999999", "strokeDash": [1.5, 1.5], "strokeWidth": 1},
 "encoding": {"x": {"datum": "0", "type": "ordinal", "bandPosition": 0.5}, "y": {"datum": 15.85, "type": "quantitative"}, "y2": {"datum": 13.86}}},
{"data": {"values": [{}]},
 "mark": {"type": "rule", "color": "#999999", "strokeDash": [1.5, 1.5], "strokeWidth": 1},
 "encoding": {"x": {"datum": "0", "type": "ordinal", "bandPosition": 0}, "x2": {"datum": "0", "bandPosition": 0.5}, "y": {"datum": 13.86, "type": "quantitative"}}},
{"data": {"values": [{}]},
 "mark": {"type": "rule", "color": "#999999", "strokeDash": [1.5, 1.5], "strokeWidth": 1},
 "encoding": {"x": {"datum": "0", "type": "ordinal", "bandPosition": 0}, "y": {"datum": 13.86, "type": "quantitative"}, "y2": {"datum": 7.4}}},
{"data": {"values": [{}]},
 "mark": {"type": "point", "shape": "triangle-down", "filled": true, "color": "#999999", "size": 30, "opacity": 1},
 "encoding": {"x": {"datum": "0", "type": "ordinal", "bandPosition": 0}, "y": {"datum": 7.35, "type": "quantitative"}}},
{"data": {"name": "viol"},
 "mark": {"type": "trail", "color": "#444444", "opacity": 1},
 "encoding": {
  "x": {"field": "vol", "type": "ordinal", "scale": {"type": "band", "domain": ["0", "25", "50", "75", "100"], "paddingInner": 0.2, "paddingOuter": 0.1},
        "axis": {"title": "Environment volatility (%)", "domain": true, "domainDash": [0, 49.1, 392.8, 1000], "domainColor": "#333333", "domainWidth": 1.2, "offset": 52, "labelAngle": 0, "labelAlign": "center", "tickSize": 6, "tickColor": "#333333", "tickWidth": 1.2, "labelFont": "Liberation Sans", "labelFontSize": 18, "labelColor": "#333333", "labelPadding": 7, "titleFont": "DejaVu Sans", "titleFontSize": 16, "titleFontWeight": "normal", "titleColor": "#222222", "titlePadding": 14}},
  "xOffset": {"field": "grp", "type": "nominal", "scale": {"domain": ["EFE", "Reward learning", "State learning"], "paddingInner": 0, "paddingOuter": 0}},
  "y": {"field": "v", "type": "quantitative", "scale": {"domain": [0, 20], "nice": false, "zero": false},
        "axis": {"title": "Pref. satisfy & explore trade-off", "values": [0, 5, 10, 15, 20], "offset": 9, "domainColor": "#333333", "domainWidth": 1.2, "tickColor": "#333333", "tickWidth": 1.2, "tickSize": 5, "labelFont": "Liberation Sans", "labelFontSize": 18, "labelColor": "#333333", "labelPadding": 3, "titleFont": "DejaVu Sans", "titleFontSize": 16, "titleFontWeight": "normal", "titleColor": "#222222", "titlePadding": 12}},
  "size": {"field": "d", "type": "quantitative", "scale": {"domain": [0, 13], "range": [1.6, 27.6], "zero": false}, "legend": null},
  "detail": [{"field": "vol"}, {"field": "grp"}],
  "order": {"field": "v", "type": "quantitative"}
 }},
{"data": {"name": "viol"},
 "mark": {"type": "trail", "opacity": 1},
 "encoding": {
  "x": {"field": "vol", "type": "ordinal"},
  "xOffset": {"field": "grp", "type": "nominal"},
  "y": {"field": "v", "type": "quantitative"},
  "size": {"field": "d", "type": "quantitative", "scale": {"domain": [0, 13], "range": [0, 26], "zero": false}, "legend": null},
  "fill": {"field": "grp", "type": "nominal", "scale": {"domain": ["EFE", "Reward learning", "State learning"], "range": ["#cf3136", "#457bad", "#56a254"]},
            "legend": {"orient": "none", "legendX": 277, "legendY": -70, "title": null, "symbolType": "M-1.5,-0.5H1.5V0.5H-1.5Z", "symbolSize": 676, "symbolOffset": 12.5, "symbolStrokeColor": "#555555", "symbolStrokeWidth": 1, "symbolOpacity": 1, "labelFont": "DejaVu Sans", "labelFontSize": 18, "labelColor": "#222222", "labelOffset": 21, "rowPadding": 2, "padding": 7, "strokeColor": "#cccccc", "fillColor": "white", "cornerRadius": 4}},
  "detail": [{"field": "vol"}, {"field": "grp"}],
  "order": {"field": "v", "type": "quantitative"}
 }},
{"data": {"name": "stats"},
 "mark": {"type": "rule", "color": "#444444", "strokeWidth": 1.4},
 "encoding": {"x": {"field": "vol", "type": "ordinal"}, "xOffset": {"field": "grp", "type": "nominal"}, "y": {"field": "lo", "type": "quantitative"}, "y2": {"field": "hi"}}},
{"data": {"name": "stats"},
 "mark": {"type": "rule", "color": "#444444", "strokeWidth": 4.5},
 "encoding": {"x": {"field": "vol", "type": "ordinal"}, "xOffset": {"field": "grp", "type": "nominal"}, "y": {"field": "q1", "type": "quantitative"}, "y2": {"field": "q3"}}},
{"data": {"name": "stats"},
 "mark": {"type": "point", "filled": true, "color": "white", "size": 8, "opacity": 1},
 "encoding": {"x": {"field": "vol", "type": "ordinal"}, "xOffset": {"field": "grp", "type": "nominal"}, "y": {"field": "med", "type": "quantitative"}}}
]
},
{
"title": {"text": "B", "anchor": "start", "frame": "group", "dx": -65, "offset": -27, "fontSize": 30, "fontWeight": "bold", "font": "Liberation Sans", "color": "black"},
"width": 455, "height": 242,
"data": {"name": "ent"},
"layer": [
{"mark": {"type": "area", "opacity": 0.2},
 "encoding": {
  "x": {"field": "ep", "type": "quantitative", "scale": {"domain": [0, 50], "nice": false},
        "axis": {"title": "Episode", "values": [0, 10, 20, 30, 40, 50], "offset": 73.5, "domainColor": "#333333", "domainWidth": 1.2, "tickColor": "#333333", "tickWidth": 1.2, "tickSize": 5, "labelFont": "Liberation Sans", "labelFontSize": 18, "labelColor": "#333333", "labelPadding": 4, "titleFont": "DejaVu Sans", "titleFontSize": 16, "titleFontWeight": "normal", "titleColor": "#222222", "titlePadding": 12}},
  "y": {"field": "lo", "type": "quantitative", "scale": {"domain": [1, 4], "nice": false, "zero": false},
        "axis": {"title": "Entropy", "values": [1, 2, 3, 4], "format": "d", "offset": 20, "domainColor": "#333333", "domainWidth": 1.2, "tickColor": "#333333", "tickWidth": 1.2, "tickSize": 5, "labelFont": "Liberation Sans", "labelFontSize": 18, "labelColor": "#333333", "labelPadding": 3, "titleFont": "DejaVu Sans", "titleFontSize": 16, "titleFontWeight": "normal", "titleColor": "#222222", "titlePadding": 22}},
  "y2": {"field": "hi"},
  "fill": {"field": "s", "type": "nominal", "scale": {"domain": ["0.0", "25.0", "50.0", "75.0", "100.0"], "range": ["#ff00ff", "#0000ff", "#008000", "#000000", "#ff0000"]},
           "legend": {"orient": "none", "legendX": 285, "legendY": -93, "title": "Env. volatility (%)", "titleLimit": 400, "titleFont": "DejaVu Sans", "titleFontSize": 20, "titleFontWeight": "normal", "titleColor": "#222222", "titlePadding": 12.5, "symbolType": "M-1.5,-0.045H1.5V0.045H-1.5Z", "symbolSize": 900, "symbolOpacity": 1, "symbolStrokeWidth": 0, "symbolOffset": 42.5, "labelFont": "Liberation Sans", "labelFontSize": 20, "labelColor": "#222222", "labelOffset": 20, "rowPadding": 5, "padding": 10, "strokeColor": "#cccccc", "fillColor": "white", "cornerRadius": 4}}
 }},
{"mark": {"type": "line", "strokeWidth": 1.5},
 "encoding": {
  "x": {"field": "ep", "type": "quantitative"},
  "y": {"field": "m", "type": "quantitative"},
  "color": {"field": "s", "type": "nominal", "scale": {"domain": ["0.0", "25.0", "50.0", "75.0", "100.0"], "range": ["#ff00ff", "#0000ff", "#008000", "#000000", "#ff0000"]}, "legend": null}
 }}
]
}
]
}
